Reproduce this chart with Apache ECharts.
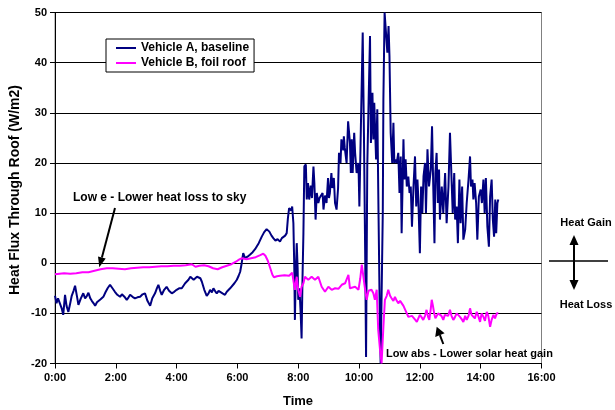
<!DOCTYPE html>
<html>
<head>
<meta charset="utf-8">
<script src="https://cdn.jsdelivr.net/npm/echarts@6/dist/echarts.min.js"></script>
<style>html,body{margin:0;padding:0;background:#fff;}#c{width:615px;height:410px;}</style>
</head>
<body>
<div id="c"></div>
<script>
// ---- data (time in decimal hours, heat flux in W/m2) ----
var seriesNames = ['Vehicle A, baseline', 'Vehicle B, foil roof'];
var xTickLabels = ['0:00','2:00','4:00','6:00','8:00','10:00','12:00','14:00','16:00'];
var yTickValues = [-20,-10,0,10,20,30,40,50];

var timesA = [0.00,0.05,0.10,0.16,0.22,0.27,0.33,0.38,0.44,0.49,0.55,0.61,0.66,0.72,0.77,0.85,0.93,0.99,1.05,1.10,
1.16,1.21,1.27,1.32,1.38,1.43,1.50,1.59,1.66,1.73,1.81,1.89,1.97,2.05,2.14,2.20,2.25,2.30,2.36,2.42,
2.47,2.55,2.63,2.71,2.80,2.88,2.96,3.04,3.13,3.20,3.29,3.35,3.40,3.46,3.51,3.59,3.67,3.75,3.84,3.92,
4.00,4.08,4.17,4.28,4.39,4.45,4.50,4.56,4.61,4.67,4.72,4.78,4.83,4.91,4.99,5.05,5.10,5.16,5.21,5.27,
5.32,5.38,5.43,5.51,5.59,5.65,5.70,5.76,5.81,5.90,5.98,6.04,6.09,6.14,6.19,6.25,6.33,6.41,6.50,6.58,
6.63,6.70,6.80,6.88,6.96,7.05,7.12,7.18,7.25,7.32,7.40,7.46,7.51,7.57,7.62,7.66,7.70,7.73,7.77,7.80,
7.84,7.87,7.89,7.92,7.95,7.98,8.00,8.04,8.08,8.11,8.14,8.17,8.20,8.25,8.28,8.32,8.36,8.41,8.45,8.50,
8.53,8.57,8.61,8.66,8.70,8.75,8.80,8.83,8.88,8.93,8.98,9.01,9.04,9.09,9.12,9.17,9.21,9.26,9.31,9.34,
9.39,9.42,9.48,9.50,9.53,9.59,9.64,9.70,9.73,9.76,9.79,9.84,9.87,9.92,9.98,10.01,10.05,10.12,10.16,10.20,
10.23,10.27,10.32,10.36,10.39,10.44,10.47,10.50,10.56,10.60,10.64,10.68,10.71,10.75,10.78,10.80,10.84,10.89,10.93,10.97,
11.00,11.04,11.09,11.13,11.16,11.21,11.24,11.29,11.33,11.37,11.40,11.46,11.49,11.53,11.57,11.62,11.66,11.70,11.74,11.79,
11.84,11.88,11.92,11.95,12.00,12.04,12.08,12.12,12.17,12.20,12.25,12.30,12.36,12.40,12.44,12.48,12.51,12.55,12.59,12.63,
12.66,12.72,12.77,12.83,12.88,12.94,12.99,13.05,13.08,13.13,13.16,13.21,13.25,13.30,13.34,13.39,13.43,13.49,13.54,13.60,
13.65,13.68,13.73,13.76,13.80,13.85,13.89,13.94,14.00,14.04,14.09,14.13,14.17,14.22,14.27,14.31,14.36,14.40,14.44,14.48,
14.51,14.55,14.58];
var valuesA = [-6.5,-8.0,-7.0,-6.7,-9.0,-10.3,-6.3,-8.5,-9.7,-8.3,-6.5,-5.5,-4.5,-6.5,-8.3,-7.0,-6.0,-7.0,-6.5,-5.9,
-7.0,-7.5,-8.0,-8.5,-7.8,-7.5,-7.2,-6.7,-5.8,-5.0,-4.3,-5.0,-5.7,-6.3,-6.7,-6.2,-6.0,-6.8,-7.3,-6.8,
-6.3,-6.7,-7.0,-6.8,-6.7,-6.2,-6.0,-7.5,-8.5,-7.0,-6.0,-5.0,-4.3,-5.5,-6.3,-5.3,-4.7,-5.5,-6.0,-5.7,
-5.3,-5.0,-5.0,-4.0,-3.3,-2.7,-2.5,-3.3,-3.0,-2.7,-2.5,-3.0,-3.7,-5.3,-6.5,-6.0,-5.3,-5.8,-5.0,-5.6,
-6.0,-5.5,-5.3,-6.0,-6.3,-5.7,-5.7,-5.0,-4.7,-4.0,-3.3,-2.5,-1.7,0.0,2.0,1.0,1.3,1.7,2.2,2.8,
3.0,4.0,5.3,6.2,6.8,6.3,5.5,5.0,4.5,4.8,4.3,5.0,5.0,5.5,6.0,9.0,11.0,11.0,10.5,11.3,
8.0,-1.0,-11.3,-2.0,4.0,-1.0,-7.3,-5.0,-10.0,-15.0,-3.0,6.0,19.3,19.7,12.7,16.0,12.7,15.5,13.0,19.3,
16.0,8.7,14.0,12.0,13.0,12.7,14.0,10.7,13.5,12.0,17.0,13.0,14.0,18.0,15.0,17.0,12.0,10.7,15.0,22.0,
20.0,24.7,22.5,25.3,23.0,20.0,28.3,24.0,18.0,24.7,18.0,26.0,22.0,18.0,20.0,11.3,24.0,46.0,26.0,2.7,
-18.7,19.3,34.0,45.3,24.0,34.0,24.7,32.0,20.7,30.7,10.0,-10.0,-20.0,-20.0,10.0,32.7,50.0,50.0,42.0,47.3,
41.3,26.0,20.0,28.0,20.0,20.7,20.0,22.0,14.0,21.3,6.0,24.7,16.7,20.7,15.3,17.3,14.0,15.3,7.3,15.3,
21.3,11.3,16.7,12.7,2.0,15.3,10.0,17.3,20.0,10.0,22.7,15.3,18.7,27.3,15.3,4.0,18.0,22.0,12.0,18.7,
8.7,15.3,10.0,18.0,8.0,15.3,26.0,15.3,10.0,18.0,8.7,11.3,4.0,16.7,8.0,15.3,4.7,6.7,12.0,16.7,
21.3,15.3,16.7,12.7,16.0,12.0,4.7,13.3,14.7,12.0,16.7,10.0,17.0,7.3,3.3,13.3,16.7,8.7,5.3,12.7,
6.0,12.0,12.7];

var timesB = [0.00,0.15,0.30,0.50,0.70,0.90,1.10,1.30,1.50,1.70,1.90,2.10,2.30,2.50,2.70,2.90,3.10,3.30,3.50,3.70,
3.90,4.10,4.30,4.50,4.62,4.75,4.90,5.05,5.20,5.35,5.50,5.65,5.80,5.95,6.05,6.15,6.30,6.45,6.60,6.75,
6.85,6.92,7.00,7.08,7.15,7.20,7.30,7.40,7.55,7.70,7.80,7.86,7.89,7.95,8.00,8.06,8.11,8.17,8.22,8.33,
8.44,8.55,8.66,8.77,8.88,8.99,9.10,9.21,9.32,9.43,9.54,9.65,9.70,9.76,9.87,9.98,10.04,10.09,10.14,10.20,
10.25,10.31,10.41,10.47,10.52,10.58,10.63,10.69,10.74,10.80,10.85,10.91,10.96,11.02,11.07,11.13,11.18,11.24,11.29,11.35,
11.40,11.46,11.51,11.57,11.62,11.68,11.74,11.79,11.85,11.90,11.95,12.00,12.06,12.11,12.17,12.22,12.27,12.31,12.36,12.39,
12.43,12.47,12.51,12.55,12.60,12.66,12.71,12.77,12.82,12.88,12.93,12.99,13.04,13.10,13.15,13.21,13.27,13.32,13.38,13.43,
13.49,13.54,13.60,13.65,13.70,13.76,13.81,13.87,13.92,13.98,14.03,14.09,14.14,14.20,14.25,14.31,14.36,14.42,14.47,14.53,
14.58];
var valuesB = [-2.2,-2.1,-2.0,-2.1,-2.0,-1.8,-1.8,-1.5,-1.2,-1.0,-1.0,-1.1,-1.2,-1.0,-0.9,-0.8,-0.8,-0.7,-0.6,-0.6,
-0.5,-0.5,-0.4,-0.2,-0.7,-0.5,-0.4,-0.6,-1.0,-1.2,-0.8,-0.5,-0.2,0.3,0.7,1.0,0.8,1.0,1.2,1.6,
1.9,1.5,0.5,-1.0,-2.3,-2.8,-2.6,-2.5,-2.4,-2.5,-1.9,-2.0,-5.3,-2.7,-5.3,-6.7,-4.7,-4.0,-2.7,-3.3,
-2.7,-3.3,-2.7,-4.7,-5.7,-4.7,-5.3,-5.0,-5.1,-4.3,-4.0,-2.3,-5.0,-5.3,-4.7,-5.3,-3.0,-0.3,0.0,-5.3,
-7.3,-5.5,-5.3,-6.0,-7.3,-5.3,-13.3,-17.3,-20.0,-12.7,-7.3,-6.5,-5.3,-6.5,-7.0,-7.5,-6.7,-7.5,-8.0,-7.5,
-7.7,-8.5,-8.3,-10.0,-10.7,-11.0,-10.5,-10.7,-11.3,-11.7,-11.0,-10.3,-10.8,-11.3,-10.5,-9.3,-10.7,-11.3,-9.0,-7.3,
-8.5,-10.0,-11.0,-10.7,-10.0,-9.7,-10.5,-11.3,-10.3,-10.0,-10.5,-9.3,-10.5,-11.3,-10.8,-10.0,-10.3,-10.7,-11.2,-11.7,
-10.5,-11.3,-10.5,-9.0,-10.3,-10.0,-11.0,-9.7,-10.5,-11.7,-10.0,-10.7,-11.5,-9.7,-10.5,-12.7,-11.3,-10.3,-11.0,-10.0,
-10.0];

function pairs(t, v){ var out=[]; for (var i=0;i<t.length;i++) out.push([t[i], v[i]]); return out; }

var chart = echarts.init(document.getElementById('c'), null, {renderer:'canvas'});
var FONT = 'Arial, "Liberation Sans", sans-serif';
chart.setOption({
  animation: false,
  backgroundColor: '#ffffff',
  grid: { left: 55, right: 73.5, top: 12.5, bottom: 46.5, containLabel: false, outerBoundsMode: 'none',
          show: true, borderColor: '#808080', borderWidth: 1, backgroundColor: 'transparent' },
  legend: {
    orient: 'vertical', left: 106, top: 39,
    backgroundColor: '#ffffff', borderColor: '#000000', borderWidth: 1,
    padding: [3, 5, 3, 10], itemGap: 3, itemWidth: 20, itemHeight: 2, icon: 'rect',
    textStyle: { fontFamily: FONT, fontWeight: 'bold', fontSize: 12, color: '#000' },
    data: seriesNames
  },
  xAxis: {
    type: 'value', min: 0, max: 16, interval: 2,
    axisLine: { onZero: false, lineStyle: { color: '#000', width: 1 } },
    axisTick: { show: true, length: 5, inside: false, lineStyle: { color: '#000' } },
    splitLine: { show: false },
    axisLabel: { fontFamily: FONT, fontWeight: 'bold', fontSize: 11, color: '#000', margin: 9,
      formatter: function(v){ return xTickLabels[Math.round(v/2)]; } }
  },
  yAxis: {
    type: 'value', min: yTickValues[0], max: yTickValues[yTickValues.length-1], interval: 10,
    axisLine: { show: true, lineStyle: { color: '#000', width: 1 } },
    axisTick: { show: true, length: 5, inside: false, lineStyle: { color: '#000' } },
    splitLine: { show: true, lineStyle: { color: '#000', width: 1 } },
    axisLabel: { fontFamily: FONT, fontWeight: 'bold', fontSize: 11, color: '#000', margin: 8 }
  },
  series: [
    { name: seriesNames[0], type: 'line', data: pairs(timesA, valuesA), symbol: 'none',
      lineStyle: { color: '#000080', width: 2 }, itemStyle: { color: '#000080' }, clip: true },
    { name: seriesNames[1], type: 'line', data: pairs(timesB, valuesB), symbol: 'none',
      lineStyle: { color: '#FF00FF', width: 2 }, itemStyle: { color: '#FF00FF' }, clip: true }
  ],
  graphic: [
    { type: 'text', x: 298, y: 401, style: { text: 'Time', font: 'bold 13px ' + FONT, fill: '#000', textAlign: 'center', textVerticalAlign: 'middle' } },
    { type: 'text', x: 15, y: 190, rotation: Math.PI/2, style: { text: 'Heat Flux Through Roof (W/m2)', font: 'bold 14px ' + FONT, fill: '#000', textAlign: 'center', textVerticalAlign: 'middle' } },
    { type: 'text', x: 73, y: 198, style: { text: 'Low e - Lower heat loss to sky', font: 'bold 12px ' + FONT, fill: '#000', textAlign: 'left', textVerticalAlign: 'middle' } },
    { type: 'line', shape: { x1: 115, y1: 208, x2: 101.9, y2: 257.6 }, style: { stroke: '#000', lineWidth: 2 } },
    { type: 'polygon', shape: { points: [[99.3,267.3],[105.7,258.6],[98.0,256.6]] }, style: { fill: '#000' } },
    { type: 'text', x: 386, y: 354, style: { text: 'Low abs - Lower solar heat gain', font: 'bold 11px ' + FONT, fill: '#000', textAlign: 'left', textVerticalAlign: 'middle' } },
    { type: 'line', shape: { x1: 443.3, y1: 344, x2: 439.9, y2: 335.1 }, style: { stroke: '#000', lineWidth: 2 } },
    { type: 'polygon', shape: { points: [[436.7,326.7],[444.6,333.3],[435.2,336.9]] }, style: { fill: '#000' } },
    { type: 'text', x: 586, y: 223, style: { text: 'Heat Gain', font: 'bold 11px ' + FONT, fill: '#000', textAlign: 'center', textVerticalAlign: 'middle' } },
    { type: 'text', x: 586, y: 305, style: { text: 'Heat Loss', font: 'bold 11px ' + FONT, fill: '#000', textAlign: 'center', textVerticalAlign: 'middle' } },
    { type: 'line', shape: { x1: 549, y1: 261, x2: 608, y2: 261 }, style: { stroke: '#000', lineWidth: 1.5 } },
    { type: 'line', shape: { x1: 574, y1: 244, x2: 574, y2: 281 }, style: { stroke: '#000', lineWidth: 2 } },
    { type: 'polygon', shape: { points: [[574,235],[569.5,245],[578.5,245]] }, style: { fill: '#000' } },
    { type: 'polygon', shape: { points: [[574,290],[569.5,280],[578.5,280]] }, style: { fill: '#000' } }
  ]
});
</script>
</body>
</html>
